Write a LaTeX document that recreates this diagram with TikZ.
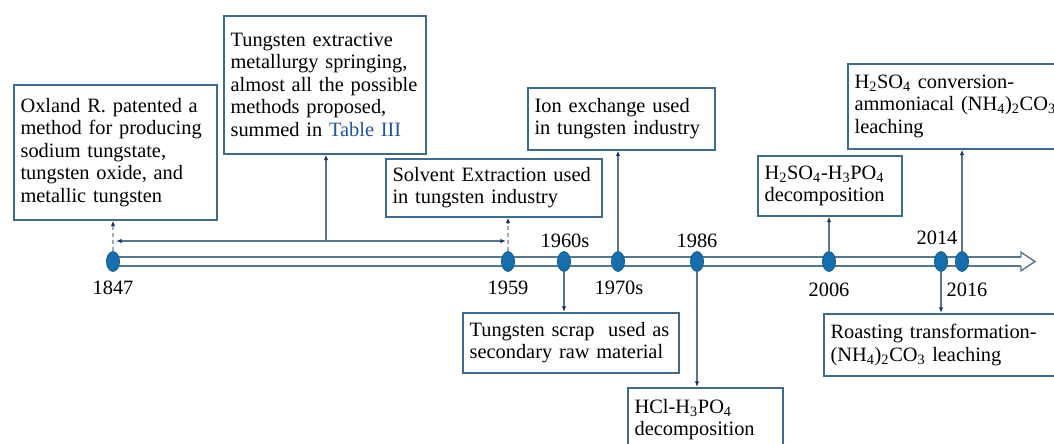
\documentclass[tikz,border=0pt]{standalone}
\usepackage{fontspec}
\setmainfont{Liberation Serif}
\usetikzlibrary{arrows.meta,shapes.geometric}
\definecolor{boxc}{RGB}{62,108,138}
\definecolor{linec}{RGB}{88,118,142}
\definecolor{dotc}{RGB}{22,110,172}
\definecolor{tipc}{RGB}{28,52,104}
\definecolor{tablec}{RGB}{34,84,150}
\tikzstyle{evt}=[draw=boxc,line width=1.1pt,anchor=north west,align=left,inner xsep=0.17cm,font=\fontsize{14.5}{16}\selectfont]
\tikzstyle{yr}=[inner sep=0pt,font=\fontsize{14.5}{16}\selectfont]
\tikzstyle{dot}=[ellipse,fill=dotc,draw=dotc!70!black,line width=0.4pt,minimum width=0.33cm,minimum height=0.5cm,inner sep=0pt]
\tikzstyle{con}=[linec,line width=0.8pt,-{Latex[length=1.4mm,width=1.1mm,color=tipc]}]

\begin{document}
\begin{tikzpicture}[x=0.025cm,y=-0.025cm]
\useasboundingbox (0,0) rectangle (1054,443);

\node (ox) at (13,84) [evt,text width=4.735cm,minimum height=3.375cm] {Oxland R. patented a\\method for producing\\sodium tungstate,\\tungsten oxide, and\\metallic tungsten};
\node (meth) at (223,15) [evt,text width=4.71cm,minimum height=3.45cm] {Tungsten extractive\\metallurgy springing,\\almost all the possible\\methods proposed,\\summed in \textcolor{tablec}{Table III}};
\node (sx) at (385,158) [evt,text width=5.06cm,minimum height=1.45cm] {Solvent Extraction used\\in tungsten industry};
\node (ix) at (527,87) [evt,text width=4.335cm,minimum height=1.55cm] {Ion exchange used\\in tungsten industry};
\node (scrap) at (462,312) [evt,text width=5.06cm,minimum height=1.5cm] {Tungsten scrap\ \ used as\\secondary raw material};
\node (hcl) at (627,387) [evt,text width=3.535cm,minimum height=1.6cm] {HCl-H\textsubscript{3}PO\textsubscript{4}\\decomposition};
\node (sp) at (757,155) [evt,text width=3.26cm,minimum height=1.5cm] {H\textsubscript{2}SO\textsubscript{4}-H\textsubscript{3}PO\textsubscript{4}\\decomposition};
\node (conv) at (847,63) [evt,text width=5.16cm,minimum height=2.125cm] {H\textsubscript{2}SO\textsubscript{4} conversion-\\ammoniacal (NH\textsubscript{4})\textsubscript{2}CO\textsubscript{3}\\leaching};
\node (roast) at (823,313) [evt,text width=5.535cm,minimum height=1.55cm] {Roasting transformation-\\(NH\textsubscript{4})\textsubscript{2}CO\textsubscript{3} leaching};

\coordinate (tlA) at (113,261.5);
\coordinate (tlB) at (1021,261.5);
\coordinate (tlC) at (1035,261.5);
\draw[linec,line width=1pt,double=white,double distance=5.2pt] (tlA) -- (tlB);
\draw[linec,line width=1pt,fill=white] (tlB) ++(0,-4.3) -- ++(0,-5) -- (tlC) -- ++(-14,9.3) -- ++(0,-5);

\node (d1847) at (113,261.5) [dot] {};
\node (d1959) at (508,261.5) [dot] {};
\node (d1960) at (564,261.5) [dot] {};
\node (d1970) at (618,261.5) [dot] {};
\node (d1986) at (697,261.5) [dot] {};
\node (d2006) at (829,261.5) [dot] {};
\node (d2014) at (941,261.5) [dot] {};
\node (d2016) at (962,261.5) [dot] {};

\node (y1847) at (113,288) [yr] {1847};
\node (y1959) at (508,288) [yr] {1959};
\node (y1960) at (565,241) [yr] {1960s};
\node (y1970) at (619,288) [yr] {1970s};
\node (y1986) at (697,241) [yr] {1986};
\node (y2006) at (829,290) [yr] {2006};
\node (y2014) at (937,238) [yr] {2014};
\node (y2016) at (967,290) [yr] {2016};

\coordinate (spanL) at (116,241);
\coordinate (spanR) at (506,241);
\coordinate (spanM) at (326,241);
\draw[linec,line width=0.8pt,{Latex[length=1.4mm,width=1.1mm,color=tipc]}-{Latex[length=1.4mm,width=1.1mm,color=tipc]}] (spanL) -- (spanR);
\draw[con] (spanM) -- (spanM |- meth.south);

\draw[con,densely dashed,linec!60] (d1847.north) -- (d1847.north |- ox.south);
\draw[con,densely dashed,linec!60] (d1959.north) -- (d1959.north |- sx.south);
\draw[con] (d1970.north) -- (d1970.north |- ix.south);
\draw[con] (d1960.south) -- (d1960.south |- scrap.north);
\draw[con] (d1986.south) -- (d1986.south |- hcl.north);
\draw[con] (d2006.north) -- (d2006.north |- sp.south);
\draw[con] (d2014.south) -- (d2014.south |- roast.north);
\draw[con] (d2016.north) -- (d2016.north |- conv.south);
\end{tikzpicture}
\end{document}
